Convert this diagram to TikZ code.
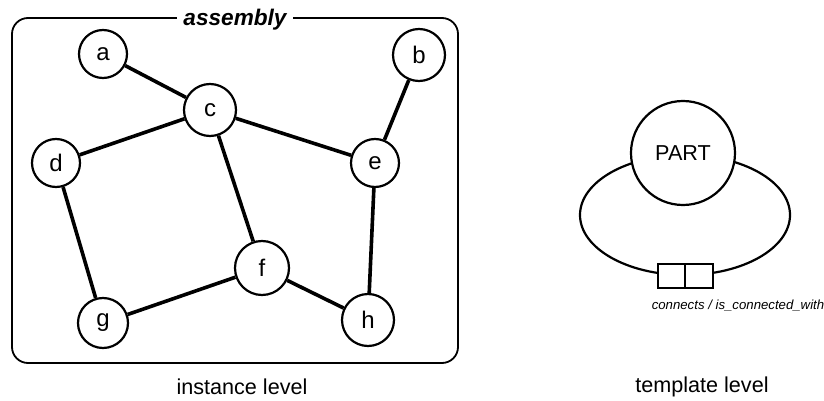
\documentclass[tikz,border=0pt]{standalone}
\usepackage{fontspec}
\setmainfont{Liberation Sans}
\usetikzlibrary{shapes.geometric}

\begin{document}
\begin{tikzpicture}[x=0.5pt, y=-0.5pt,
      part/.style = {draw, circle, line width=1.1pt, fill=white, inner sep=0pt,
                     font=\fontsize{12}{12}\selectfont},
      link/.style = {line width=1.8pt},
      lbl/.style  = {font=\fontsize{10.8}{12}\selectfont},
      relbox/.style = {draw, line width=1pt, fill=white, inner sep=0pt,
                     minimum width=27.5pt, minimum height=12pt}
    ]
    \useasboundingbox (0,0) rectangle (824,401);

    % instance level: the assembly
    \draw[line width=0.9pt, rounded corners=8pt] (12,18) rectangle (458,363);
    \node[fill=white, inner sep=3pt, font=\fontsize{11.3}{12}\selectfont\bfseries\itshape]
         (asm) at (235,20) {assembly};

    \node[part, minimum size=24pt] (a) at (103,54)  {a};
    \node[part, minimum size=26pt] (b) at (419,55)  {b};
    \node[part, minimum size=26pt] (c) at (210,110) {c};
    \node[part, minimum size=24pt] (d) at (56,163)  {d};
    \node[part, minimum size=24pt] (e) at (375,163) {e};
    \node[part, minimum size=27pt] (f) at (262,268) {f};
    \node[part, minimum size=25pt] (g) at (103,323) {g};
    \node[part, minimum size=26pt] (h) at (368,320) {h};

    \draw[link] (a) -- (c);
    \draw[link] (c) -- (d);
    \draw[link] (c) -- (e);
    \draw[link] (c) -- (f);
    \draw[link] (b) -- (e);
    \draw[link] (d) -- (g);
    \draw[link] (e) -- (h);
    \draw[link] (g) -- (f);
    \draw[link] (f) -- (h);

    \node[lbl] (inst) at (242,387) {instance level};

    % template level: PART with its relationship loop
    \node[draw, ellipse, line width=1.1pt, minimum width=105pt, minimum height=60pt,
          inner sep=0pt] (loop) at (685,215) {};
    \node[draw, circle, line width=1.1pt, fill=white, minimum size=52pt, inner sep=0pt,
          font=\fontsize{10.8}{12}\selectfont] (part) at (683,153) {PART};
    \node[relbox] (rel) at (loop.south) {};
    \draw[line width=0.7pt] (rel.north) -- (rel.south);
    \node[font=\fontsize{6.6}{8}\selectfont\itshape, anchor=north]
         (relname) at (738,293) {connects / is\_connected\_with};

    \node[lbl] (tmpl) at (702,387) {template level};
\end{tikzpicture}
\end{document}
